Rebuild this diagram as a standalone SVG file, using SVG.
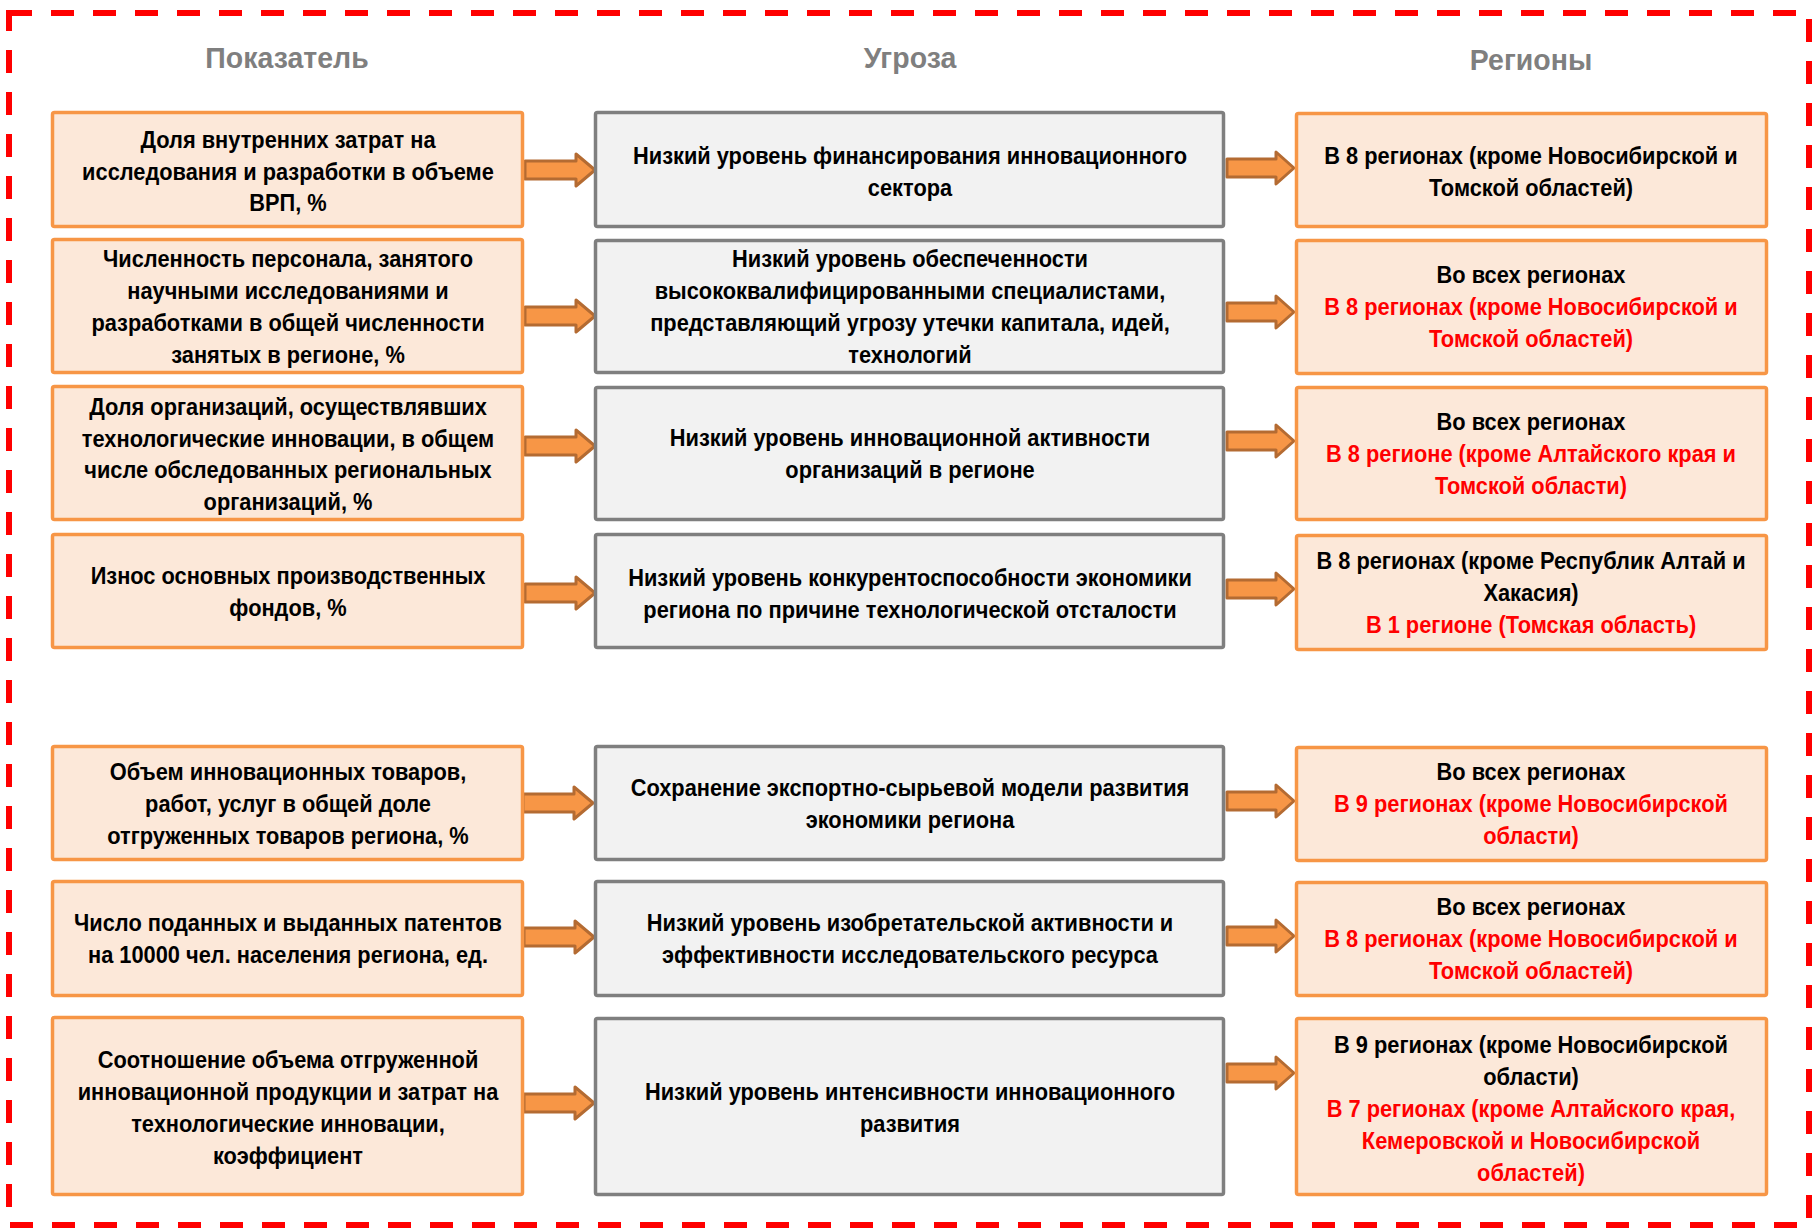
<svg xmlns="http://www.w3.org/2000/svg" xmlns:xlink="http://www.w3.org/1999/xlink" width="1814" height="1229" viewBox="0 0 1814 1229">
<style>
text{font-family:"Liberation Sans",Arial,sans-serif;font-weight:bold;text-anchor:middle}
.t{font-size:24.5px;fill:#000}
.r{fill:#FF0000}
.h{font-size:30px;fill:#7F7F7F}
.lb{fill:#FCE8D9;stroke:#F79646;stroke-width:3.5}
.mb{fill:#F2F2F2;stroke:#7F7F7F;stroke-width:3.5}
.ar{fill:#F79646;stroke:#B46B32;stroke-width:3;stroke-linejoin:round}
</style>
<defs>
<path id="arrL" class="ar" d="M0,-9 H51 V-16 L70,0 L51,16 V9 H0 Z"/>
<path id="arrR" class="ar" d="M0,-9 H49 V-16 L67,0 L49,16 V9 H0 Z"/>
</defs>
<rect x="9" y="13" width="1800" height="1212" fill="none" stroke="#FF0000" stroke-width="6" stroke-dasharray="23 19"/>
<g id="headers">
<text class="h" transform="translate(287 68) scale(0.95 1)">Показатель</text>
<text class="h" transform="translate(910 68) scale(0.95 1)">Угроза</text>
<text class="h" transform="translate(1531 70) scale(0.95 1)">Регионы</text>
</g>
<g id="connectors">
<use xlink:href="#arrL" x="525" y="170"/>
<use xlink:href="#arrL" x="525" y="316"/>
<use xlink:href="#arrL" x="525" y="446"/>
<use xlink:href="#arrL" x="525" y="593"/>
<use xlink:href="#arrL" x="523" y="803"/>
<use xlink:href="#arrL" x="524" y="937"/>
<use xlink:href="#arrL" x="524" y="1103"/>
<use xlink:href="#arrR" x="1227" y="168"/>
<use xlink:href="#arrR" x="1227" y="312"/>
<use xlink:href="#arrR" x="1227" y="441"/>
<use xlink:href="#arrR" x="1227" y="589"/>
<use xlink:href="#arrR" x="1227" y="801"/>
<use xlink:href="#arrR" x="1227" y="936"/>
<use xlink:href="#arrR" x="1227" y="1073"/>
</g>
<g id="ind1"><rect class="lb" x="52.5" y="112.5" width="470" height="114" rx="2"/>
<g transform="translate(288 0) scale(0.89 1)"><text class="t" x="0" y="148">Доля внутренних затрат на</text><text class="t" x="0" y="180">исследования и разработки в объеме</text><text class="t" x="0" y="211">ВРП, %</text></g></g>
<g id="ind2"><rect class="lb" x="52.5" y="239.5" width="470" height="133" rx="2"/>
<g transform="translate(288 0) scale(0.89 1)"><text class="t" x="0" y="267">Численность персонала, занятого</text><text class="t" x="0" y="299">научными исследованиями и</text><text class="t" x="0" y="331">разработками в общей численности</text><text class="t" x="0" y="363">занятых в регионе, %</text></g></g>
<g id="ind3"><rect class="lb" x="52.5" y="386.5" width="470" height="133" rx="2"/>
<g transform="translate(288 0) scale(0.89 1)"><text class="t" x="0" y="415">Доля организаций, осуществлявших</text><text class="t" x="0" y="447">технологические инновации, в общем</text><text class="t" x="0" y="478">числе обследованных региональных</text><text class="t" x="0" y="510">организаций, %</text></g></g>
<g id="ind4"><rect class="lb" x="52.5" y="534.5" width="470" height="113" rx="2"/>
<g transform="translate(288 0) scale(0.89 1)"><text class="t" x="0" y="584">Износ основных производственных</text><text class="t" x="0" y="616">фондов, %</text></g></g>
<g id="ind5"><rect class="lb" x="52.5" y="746.5" width="470" height="113" rx="2"/>
<g transform="translate(288 0) scale(0.89 1)"><text class="t" x="0" y="780">Объем инновационных товаров,</text><text class="t" x="0" y="812">работ, услуг в общей доле</text><text class="t" x="0" y="844">отгруженных товаров региона, %</text></g></g>
<g id="ind6"><rect class="lb" x="52.5" y="881.5" width="470" height="114" rx="2"/>
<g transform="translate(288 0) scale(0.89 1)"><text class="t" x="0" y="931">Число поданных и выданных патентов</text><text class="t" x="0" y="963">на 10000 чел. населения региона, ед.</text></g></g>
<g id="ind7"><rect class="lb" x="52.5" y="1017.5" width="470" height="177" rx="2"/>
<g transform="translate(288 0) scale(0.89 1)"><text class="t" x="0" y="1068">Соотношение объема отгруженной</text><text class="t" x="0" y="1100">инновационной продукции и затрат на</text><text class="t" x="0" y="1132">технологические инновации,</text><text class="t" x="0" y="1164">коэффициент</text></g></g>
<g id="thr1"><rect class="mb" x="595.5" y="112.5" width="628" height="114" rx="2"/>
<g transform="translate(910 0) scale(0.89 1)"><text class="t" x="0" y="164">Низкий уровень финансирования инновационного</text><text class="t" x="0" y="196">сектора</text></g></g>
<g id="thr2"><rect class="mb" x="595.5" y="240.5" width="628" height="132" rx="2"/>
<g transform="translate(910 0) scale(0.89 1)"><text class="t" x="0" y="267">Низкий уровень обеспеченности</text><text class="t" x="0" y="299">высококвалифицированными специалистами,</text><text class="t" x="0" y="331">представляющий угрозу утечки капитала, идей,</text><text class="t" x="0" y="363">технологий</text></g></g>
<g id="thr3"><rect class="mb" x="595.5" y="387.5" width="628" height="132" rx="2"/>
<g transform="translate(910 0) scale(0.89 1)"><text class="t" x="0" y="446">Низкий уровень инновационной активности</text><text class="t" x="0" y="478">организаций в регионе</text></g></g>
<g id="thr4"><rect class="mb" x="595.5" y="534.5" width="628" height="113" rx="2"/>
<g transform="translate(910 0) scale(0.89 1)"><text class="t" x="0" y="586">Низкий уровень конкурентоспособности экономики</text><text class="t" x="0" y="618">региона по причине технологической отсталости</text></g></g>
<g id="thr5"><rect class="mb" x="595.5" y="746.5" width="628" height="113" rx="2"/>
<g transform="translate(910 0) scale(0.89 1)"><text class="t" x="0" y="796">Сохранение экспортно-сырьевой модели развития</text><text class="t" x="0" y="828">экономики региона</text></g></g>
<g id="thr6"><rect class="mb" x="595.5" y="881.5" width="628" height="114" rx="2"/>
<g transform="translate(910 0) scale(0.89 1)"><text class="t" x="0" y="931">Низкий уровень изобретательской активности и</text><text class="t" x="0" y="963">эффективности исследовательского ресурса</text></g></g>
<g id="thr7"><rect class="mb" x="595.5" y="1018.5" width="628" height="176" rx="2"/>
<g transform="translate(910 0) scale(0.89 1)"><text class="t" x="0" y="1100">Низкий уровень интенсивности инновационного</text><text class="t" x="0" y="1132">развития</text></g></g>
<g id="reg1"><rect class="lb" x="1296.5" y="113.5" width="470" height="113" rx="2"/>
<g transform="translate(1531 0) scale(0.89 1)"><text class="t" x="0" y="164">В 8 регионах (кроме Новосибирской и</text><text class="t" x="0" y="196">Томской областей)</text></g></g>
<g id="reg2"><rect class="lb" x="1296.5" y="240.5" width="470" height="133" rx="2"/>
<g transform="translate(1531 0) scale(0.89 1)"><text class="t" x="0" y="283">Во всех регионах</text><text class="t r" x="0" y="315">В 8 регионах (кроме Новосибирской и</text><text class="t r" x="0" y="347">Томской областей)</text></g></g>
<g id="reg3"><rect class="lb" x="1296.5" y="387.5" width="470" height="132" rx="2"/>
<g transform="translate(1531 0) scale(0.89 1)"><text class="t" x="0" y="430">Во всех регионах</text><text class="t r" x="0" y="462">В 8 регионе (кроме Алтайского края и</text><text class="t r" x="0" y="494">Томской области)</text></g></g>
<g id="reg4"><rect class="lb" x="1296.5" y="535.5" width="470" height="114" rx="2"/>
<g transform="translate(1531 0) scale(0.89 1)"><text class="t" x="0" y="569">В 8 регионах (кроме Республик Алтай и</text><text class="t" x="0" y="601">Хакасия)</text><text class="t r" x="0" y="633">В 1 регионе (Томская область)</text></g></g>
<g id="reg5"><rect class="lb" x="1296.5" y="747.5" width="470" height="113" rx="2"/>
<g transform="translate(1531 0) scale(0.89 1)"><text class="t" x="0" y="780">Во всех регионах</text><text class="t r" x="0" y="812">В 9 регионах (кроме Новосибирской</text><text class="t r" x="0" y="844">области)</text></g></g>
<g id="reg6"><rect class="lb" x="1296.5" y="882.5" width="470" height="113" rx="2"/>
<g transform="translate(1531 0) scale(0.89 1)"><text class="t" x="0" y="915">Во всех регионах</text><text class="t r" x="0" y="947">В 8 регионах (кроме Новосибирской и</text><text class="t r" x="0" y="979">Томской областей)</text></g></g>
<g id="reg7"><rect class="lb" x="1296.5" y="1018.5" width="470" height="176" rx="2"/>
<g transform="translate(1531 0) scale(0.89 1)"><text class="t" x="0" y="1053">В 9 регионах (кроме Новосибирской</text><text class="t" x="0" y="1085">области)</text><text class="t r" x="0" y="1117">В 7 регионах (кроме Алтайского края,</text><text class="t r" x="0" y="1149">Кемеровской и Новосибирской</text><text class="t r" x="0" y="1181">областей)</text></g></g>
</svg>
